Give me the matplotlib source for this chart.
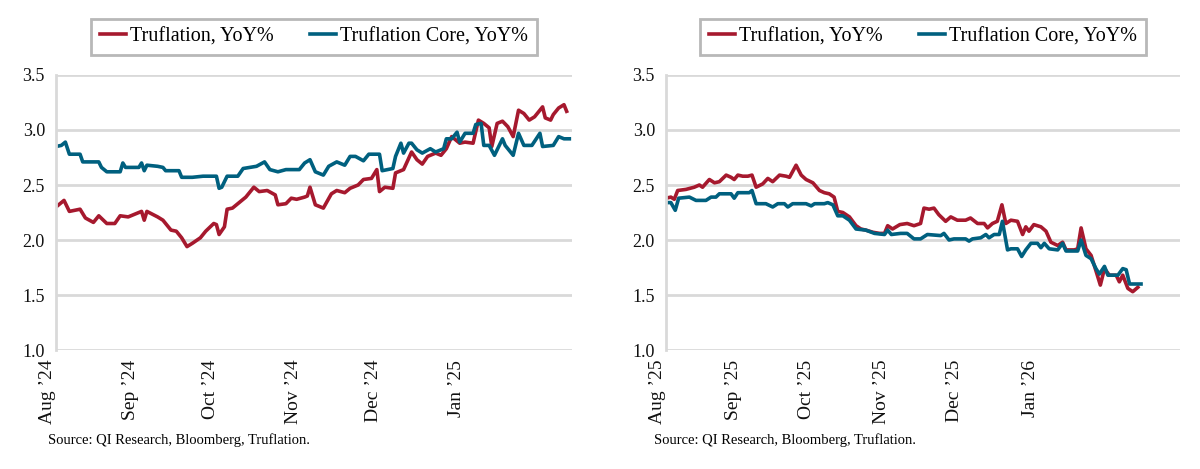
import matplotlib
matplotlib.use('Agg')
import matplotlib.pyplot as plt
import pandas as pd

plt.rcParams['font.family'] = ['Liberation Serif', 'DejaVu Serif']

RED = '#A6192E'
BLUE = '#00607F'
GRID = '#D9D9D9'

# ---- 2024/25 window (days after 1 Aug 2024) ----
start_24 = '2024-08-01'
days_24_head = [0, 3, 5, 7, 9, 11, 14, 16, 19, 22, 24, 27, 29, 32, 33, 34, 38, 40, 43, 45,
                47, 49, 51, 54, 56, 59, 60, 61, 63, 64, 66, 69, 71, 74, 76, 79, 82, 83, 86, 88,
                90, 93, 94, 95, 97, 100, 103, 105, 108, 110, 113, 115, 118, 120, 121, 123, 126,
                127, 130, 133, 135, 137, 139, 142, 144, 146, 148, 151, 153, 156, 158, 160, 162,
                163, 165, 167, 169, 171, 173, 175, 177, 179, 182, 183, 185, 186, 188, 190, 191]
head_24 = [2.30, 2.36, 2.26, 2.27, 2.28, 2.20, 2.16, 2.22, 2.15, 2.15, 2.22, 2.21, 2.23, 2.26,
           2.18, 2.26, 2.21, 2.18, 2.09, 2.08, 2.02, 1.94, 1.97, 2.02, 2.08, 2.15, 2.14, 2.05,
           2.12, 2.28, 2.29, 2.35, 2.39, 2.48, 2.44, 2.45, 2.41, 2.32, 2.33, 2.38, 2.37, 2.39,
           2.40, 2.48, 2.32, 2.29, 2.42, 2.45, 2.43, 2.47, 2.50, 2.55, 2.56, 2.64, 2.44, 2.48,
           2.47, 2.61, 2.64, 2.80, 2.73, 2.69, 2.76, 2.79, 2.77, 2.83, 2.94, 2.88, 2.89, 2.88,
           3.09, 3.06, 3.02, 2.85, 3.06, 3.08, 3.03, 2.94, 3.18, 3.15, 3.09, 3.12, 3.21, 3.11,
           3.09, 3.14, 3.20, 3.23, 3.17]

days_24_core = [0, 2, 3.5, 5, 9, 10, 16, 17, 19, 24, 25, 26, 31, 32, 33, 34, 38, 40, 41, 46,
                47, 51, 55, 60, 61, 62, 64, 68, 70, 75, 78, 80, 83, 86, 91, 93, 95, 97, 100,
                102, 105, 108, 110, 112, 115, 117, 121, 122, 126, 127, 129, 130, 132, 133, 135,
                137, 140, 142, 145, 146, 148, 150, 151, 153, 156, 157, 159, 160, 162, 164, 167,
                168, 171, 173, 175, 178, 181, 182, 186, 188, 190, 192]
core_24 = [2.85, 2.86, 2.89, 2.78, 2.78, 2.71, 2.71, 2.66, 2.62, 2.62, 2.70, 2.66, 2.66, 2.70,
           2.63, 2.68, 2.67, 2.66, 2.63, 2.63, 2.57, 2.57, 2.58, 2.58, 2.47, 2.48, 2.58, 2.58,
           2.65, 2.67, 2.71, 2.64, 2.62, 2.64, 2.64, 2.70, 2.73, 2.62, 2.59, 2.67, 2.71, 2.68,
           2.76, 2.76, 2.72, 2.78, 2.78, 2.63, 2.65, 2.76, 2.88, 2.79, 2.88, 2.88, 2.82, 2.79,
           2.83, 2.80, 2.83, 2.92, 2.92, 2.98, 2.89, 2.97, 2.97, 3.05, 3.06, 2.86, 2.86, 2.77,
           2.92, 2.86, 2.77, 2.97, 2.86, 2.86, 2.97, 2.85, 2.86, 2.94, 2.92, 2.92]

# ---- 2025/26 window (days after 1 Aug 2025) ----
start_25 = '2025-08-01'
days_25_head = [0, 2, 3.4, 4.8, 8.2, 11.6, 13.7, 15, 17.8, 19.9, 21.9, 24.7, 26.7, 28, 29.5,
                31.5, 33.6, 35.3, 37, 39.7, 41.8, 43.8, 46.6, 49.3, 50.7, 53.4, 55.5, 57.5,
                60.3, 63, 65, 67, 69, 70.5, 72.6, 75.3, 78, 80, 82, 85, 87.7, 89.7, 91, 93, 96,
                99, 101.8, 104.5, 105.9, 108, 110, 112, 114.8, 116.9, 119.6, 123, 125, 127.9,
                130.6, 132, 134, 136, 137.9, 139.5, 141.6, 144.3, 146.4, 147.7, 149, 151,
                153.9, 156, 158, 160.8, 162.8, 164.2, 167.6, 169, 170.4, 172.4, 174.5, 176.5,
                178.3, 180, 182, 184.8, 186.1, 187.5, 189.6, 191.6, 193.7]
head_25 = [2.38, 2.39, 2.37, 2.45, 2.46, 2.48, 2.50, 2.48, 2.55, 2.52, 2.53, 2.59, 2.57, 2.55,
           2.59, 2.58, 2.58, 2.59, 2.48, 2.51, 2.56, 2.53, 2.59, 2.58, 2.57, 2.68, 2.59, 2.55,
           2.52, 2.45, 2.43, 2.42, 2.39, 2.26, 2.25, 2.21, 2.13, 2.10, 2.09, 2.07, 2.06, 2.06,
           2.13, 2.10, 2.14, 2.15, 2.13, 2.15, 2.29, 2.28, 2.29, 2.23, 2.17, 2.21, 2.18, 2.18,
           2.20, 2.15, 2.15, 2.11, 2.15, 2.17, 2.32, 2.15, 2.18, 2.17, 2.05, 2.12, 2.08, 2.14,
           2.12, 2.08, 1.98, 1.95, 1.98, 1.91, 1.91, 1.92, 2.11, 1.92, 1.86, 1.72, 1.59, 1.74,
           1.68, 1.68, 1.62, 1.68, 1.56, 1.53, 1.57]

days_25_core = [0, 2, 3.8, 5.2, 9.6, 12.3, 16.4, 18.5, 20.5, 21.9, 26.7, 28, 29.5, 34.2, 35.3,
                37, 41, 43.8, 45.9, 48.6, 50, 52, 57.5, 59.6, 61, 65, 66.4, 68.5, 70.5, 72.6,
                75.3, 78, 82, 85.6, 89.7, 91, 92.5, 96.3, 99, 101.8, 104.5, 107.3, 112.8, 114.1,
                116.2, 118.2, 123, 124.4, 125.8, 129.2, 131.3, 132.6, 134.7, 136.8, 138.1,
                140.2, 141.6, 144.3, 146, 147.7, 149.8, 152.5, 153.9, 155.3, 157.3, 160.8,
                162.8, 164.2, 169, 170.4, 172.4, 174.5, 176.5, 177.9, 180, 181.4, 185.5, 187.5,
                188.9, 190.3, 195]
core_25 = [2.34, 2.34, 2.27, 2.38, 2.39, 2.36, 2.36, 2.39, 2.39, 2.42, 2.42, 2.38, 2.43, 2.43,
           2.45, 2.33, 2.33, 2.30, 2.33, 2.33, 2.30, 2.33, 2.33, 2.31, 2.33, 2.33, 2.34, 2.32,
           2.22, 2.22, 2.18, 2.10, 2.09, 2.06, 2.05, 2.09, 2.05, 2.06, 2.06, 2.01, 2.01, 2.05,
           2.04, 2.06, 2.00, 2.01, 2.01, 1.99, 2.01, 2.02, 2.05, 2.02, 2.05, 2.05, 2.17, 1.91,
           1.92, 1.92, 1.85, 1.91, 1.97, 1.97, 1.93, 1.97, 1.92, 1.91, 1.97, 1.90, 1.90, 2.00,
           1.86, 1.83, 1.74, 1.69, 1.76, 1.68, 1.68, 1.74, 1.73, 1.60, 1.60]

month_labels_24 = ['Aug \u201924', 'Sep \u201924', 'Oct \u201924', 'Nov \u201924', 'Dec \u201924', 'Jan \u201925']
month_labels_25 = ['Aug \u201925', 'Sep \u201925', 'Oct \u201925', 'Nov \u201925', 'Dec \u201925', 'Jan \u201926']
y_ticks = [1.0, 1.5, 2.0, 2.5, 3.0, 3.5]
source_text = 'Source: QI Research, Bloomberg, Truflation.'


def to_dates(start, offsets):
    return pd.Timestamp(start) + pd.to_timedelta(offsets, unit='D')


def draw_panel(ax, start, dh, vh, dc, vc, labels, end_days):
    x0 = pd.Timestamp(start)
    ax.plot(to_dates(start, dh), vh, color=RED, lw=2.6, label='Truflation, YoY%', solid_joinstyle='round')
    ax.plot(to_dates(start, dc), vc, color=BLUE, lw=2.6, label='Truflation Core, YoY%', solid_joinstyle='round')

    ax.set_ylim(1.0, 3.5)
    ax.set_yticks(y_ticks)
    ax.set_yticklabels(['%.1f' % v for v in y_ticks])
    ax.set_xlim(x0, x0 + pd.Timedelta(days=end_days))
    ticks = pd.date_range(start, periods=len(labels), freq='MS')
    ax.set_xticks(ticks)
    ax.set_xticklabels(labels, rotation=90, ha='right', va='top')
    ax.grid(axis='y', color=GRID, lw=2.0)
    ax.set_axisbelow(True)
    for s in ['top', 'right', 'bottom']:
        ax.spines[s].set_visible(False)
    ax.spines['left'].set_color(GRID)
    ax.spines['left'].set_linewidth(2.0)
    ax.tick_params(length=0, colors='#111111')
    ax.tick_params(axis='y', pad=8, labelsize=13)
    ax.tick_params(axis='x', pad=7, labelsize=14)

    leg = ax.legend(loc='lower center', bbox_to_anchor=(0.5, 1.073), ncol=2, frameon=True,
                    fontsize=14.5, handlelength=1.3, handletextpad=0.2, columnspacing=1.8,
                    borderpad=0.42, borderaxespad=0, fancybox=False)
    leg.get_frame().set_edgecolor('#A6A6A6')
    leg.get_frame().set_linewidth(2.0)


fig = plt.figure(figsize=(12, 4.69), dpi=100)
ax1 = fig.add_axes([56 / 1200, 1 - 350 / 469, 516 / 1200, 275 / 469])
ax2 = fig.add_axes([666 / 1200, 1 - 350 / 469, 514 / 1200, 275 / 469])

draw_panel(ax1, start_24, days_24_head, head_24, days_24_core, core_24, month_labels_24, 193)
draw_panel(ax2, start_25, days_25_head, head_25, days_25_core, core_25, month_labels_25, 211)

fig.text(48 / 1200, 1 - 440 / 469, source_text, fontsize=10.5, va='center', ha='left')
fig.text(654 / 1200, 1 - 440 / 469, source_text, fontsize=10.5, va='center', ha='left')

fig.savefig('out.png', dpi=100, facecolor='white')
